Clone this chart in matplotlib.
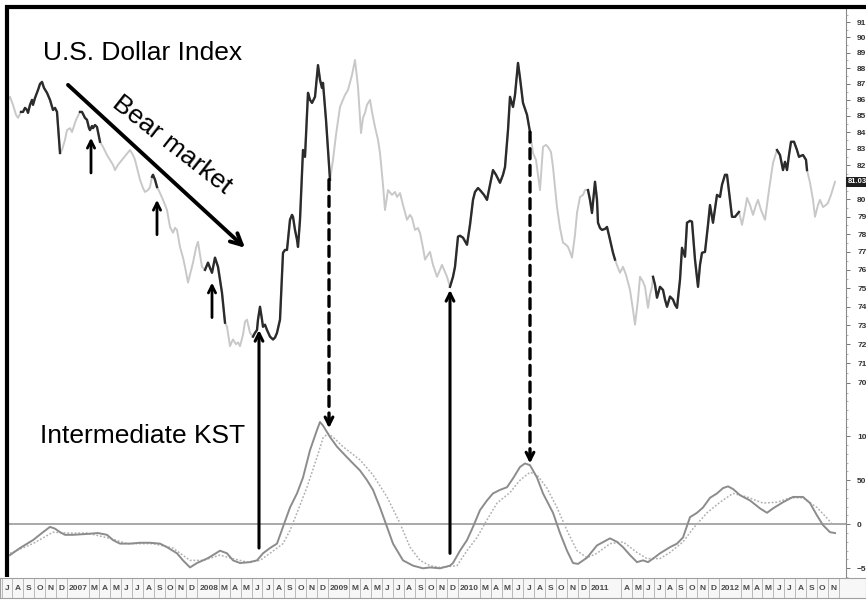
import numpy as np
import matplotlib
matplotlib.use("Agg")
import matplotlib.pyplot as plt
from matplotlib.patches import ConnectionPatch
from matplotlib.lines import Line2D
from matplotlib.ticker import FixedLocator, FixedFormatter, NullFormatter
from matplotlib.transforms import blended_transform_factory

plt.rcParams['font.family'] = ['Liberation Sans', 'DejaVu Sans']

# ── Data (x = weeks since Jul 2006) ─────────────────────
price_week = [
    0.0, 0.8, 2.0, 3.2, 4.0, 5.2,
    6.0, 6.8, 7.6, 8.0, 8.8, 9.6, 10.0, 10.8, 12.0, 12.8, 13.6, 14.4, 15.6, 16.8, 18.0, 18.8, 19.6, 20.8,
    21.6, 22.8, 23.6, 24.8, 25.6, 27.2, 28.8,
    29.6, 30.8, 31.6, 32.4, 32.8, 33.6, 34.0, 34.8, 35.6, 36.8,
    38.0, 39.6, 40.8, 42.0, 42.8, 44.0, 45.6, 47.2, 48.8, 50.0, 50.8, 52.0, 52.8, 54.0, 54.8, 56.0, 56.8, 57.6,
    58.0, 58.8, 59.6,
    60.8, 62.0, 63.6, 64.8, 66.0, 66.8, 67.6, 68.8, 70.0, 70.8, 72.0, 72.8, 74.0, 75.2, 76.0, 76.8, 77.6, 78.8,
    80.0, 80.8, 81.6, 82.8, 84.0, 84.8, 85.6, 86.8,
    87.6, 88.4, 88.8, 89.6, 90.0, 91.2, 92.0, 92.8, 94.0, 94.8, 95.6, 96.8, 98.0,
    98.8, 99.6, 100.0, 100.8, 101.6, 102.0, 102.8, 103.6, 104.8, 106.0, 106.8, 107.6, 108.8, 110.0, 110.8,
    111.6, 112.8, 113.6, 114.0, 114.8, 115.6, 116.0, 116.8, 118.0, 118.8, 120.0, 120.8, 121.6, 122.8, 124.0,
    124.8, 125.6, 126.0, 127.2, 128.8,
    130.0, 131.2, 132.8, 134.0, 134.8, 136.0, 137.6, 138.8, 140.0, 141.2,
    142.0, 142.8, 143.6, 144.8, 145.6, 146.8, 148.0, 148.8, 150.0, 150.8,
    152.0, 153.6, 154.8, 155.6, 156.8, 158.0, 159.6, 160.8, 161.6, 162.8,
    164.0, 164.8, 166.0, 166.8, 168.0, 168.8, 170.0, 171.6, 172.8, 173.6,
    174.8, 175.6, 176.8,
    178.0, 178.8, 180.0, 180.8, 182.0, 183.6, 184.8, 186.0, 186.8, 188.0, 188.8, 190.4, 191.6, 192.8,
    194.0, 195.2, 196.8, 198.0, 198.8, 200.0, 200.8, 202.0, 202.8, 204.0, 204.8, 206.0, 207.6, 208.8,
    210.0, 211.2, 212.8, 214.0, 215.2, 216.0, 217.2, 218.0, 219.6, 220.8, 222.0, 223.2, 224.0, 224.8,
    225.6, 226.8, 227.6, 228.8, 230.0, 230.8, 232.0,
    232.8, 233.6, 234.8, 235.6, 236.0, 236.8, 237.6, 238.8, 239.6, 240.8, 242.0, 242.8,
    244.0, 244.8, 246.0, 247.2, 248.8, 250.0, 250.8, 252.0, 252.8, 254.0, 254.8, 256.0, 256.8, 257.6, 258.0,
    258.8, 259.6, 260.8, 262.0, 262.8, 263.6, 264.8, 266.0, 266.8, 267.6, 268.8, 269.6, 270.8, 271.6, 272.8,
    273.6, 274.8, 276.0, 276.8, 277.6, 278.8, 280.0, 280.8, 282.0, 283.6, 284.8, 285.6, 286.8, 287.6, 288.8,
    289.6, 290.8, 292.4,
    293.6, 294.8, 295.6, 296.8, 298.0, 299.2, 300.0, 301.2, 302.8, 304.4, 306.0, 307.6,
    308.8, 310.0, 310.8, 311.6, 312.4, 313.2, 314.4, 315.6, 316.4, 317.2, 318.0, 319.2, 319.6,
    320.8, 322.0, 322.8, 324.0, 324.8, 326.0, 327.2, 328.0, 329.2, 330.8,
]
price_close = [
    86.00, 86.19, 85.69, 85.07, 84.88, 85.25,
    85.25, 85.50, 85.37, 85.19, 85.69, 86.00, 85.69, 86.12, 86.62, 87.00, 87.13, 86.75, 86.44, 86.00, 85.37, 85.50, 85.25, 82.74,
    82.92, 83.54, 84.13, 84.25, 84.01, 84.76, 85.25,
    85.25, 84.88, 84.76, 84.25, 84.13, 84.38, 84.25, 84.44, 84.32, 83.42,
    83.11, 82.62, 82.33, 82.03, 81.72, 82.03, 82.33, 82.62, 82.92, 82.62, 82.33, 81.61, 81.15, 80.66, 80.43, 80.54, 80.72, 81.32,
    81.44, 81.15, 80.72,
    80.37, 79.97, 79.38, 78.41, 78.08, 78.36, 78.24, 77.28, 76.68, 76.17, 75.30, 75.73, 76.40, 77.23, 77.57, 76.84, 76.17, 76.00,
    76.40, 76.11, 75.84, 76.68, 76.17, 75.46, 74.74, 73.14,
    72.92, 72.25, 71.90, 72.15, 72.25, 72.00, 72.10, 71.90, 72.50, 73.19, 73.30, 72.60, 72.40,
    72.60, 72.75, 73.30, 73.99, 73.30, 72.92, 73.03, 72.75, 72.40, 72.25, 72.35, 72.60, 73.30, 76.95, 77.11,
    77.11, 78.82, 79.10, 78.99, 78.24, 77.69, 77.28, 78.82, 82.92, 82.51, 86.44, 86.00, 85.81, 86.19, 88.20,
    87.26, 86.75, 87.07, 84.76, 81.15,
    82.33, 83.84, 85.56, 86.00, 86.31, 86.62, 87.57, 88.53, 86.81, 83.95,
    84.88, 85.19, 85.69, 86.00, 85.25, 84.32, 83.54, 82.74, 80.85, 79.38,
    80.54, 80.26, 80.43, 80.14, 80.37, 79.67, 78.82, 79.10, 78.93, 78.24,
    78.35, 78.07, 77.23, 76.57, 76.84, 77.00, 76.28, 75.62, 76.00, 76.28,
    75.89, 75.62, 75.07,
    75.62, 76.17, 77.86, 77.91, 77.80, 77.40, 78.53, 79.97, 80.43, 80.66, 80.54, 80.26, 79.97, 80.85,
    81.72, 81.44, 80.97, 81.44, 81.90, 84.13, 86.19, 85.56, 86.31, 88.34, 87.38, 85.81, 85.07, 84.01,
    82.74, 82.33, 80.54, 83.11, 83.23, 83.11, 82.80, 81.90, 79.55, 78.35, 77.52, 77.40, 77.28, 77.00,
    76.68, 77.97, 79.21, 80.14, 80.26, 80.54, 80.54,
    79.97, 79.21, 81.03, 79.97, 78.65, 78.35, 78.24, 78.30, 78.41, 77.69, 76.95, 76.57,
    76.11, 75.84, 76.17, 75.73, 74.90, 73.82, 73.03, 74.38, 75.62, 75.35, 75.07, 73.93, 74.64, 75.07, 75.62,
    75.18, 74.48, 75.07, 74.90, 74.38, 73.99, 74.54, 74.38, 74.10, 73.93, 75.46, 77.23, 76.73, 78.65, 78.76,
    78.71, 76.57, 75.07, 76.28, 76.95, 77.00, 78.53, 79.67, 78.65, 80.26, 80.14, 80.85, 81.44, 81.44, 79.97,
    78.99, 78.99, 79.27,
    78.53, 79.38, 80.08, 79.67, 79.10, 79.67, 79.97, 79.38, 78.82, 80.54, 82.15, 82.92,
    82.62, 81.72, 82.21, 81.72, 82.62, 83.42, 83.42, 82.92, 82.51, 82.57, 82.62, 82.33, 81.72,
    80.97, 79.97, 78.99, 79.67, 79.97, 79.55, 79.67, 79.79, 80.26, 81.03,
]
last_close = 81.03

# stretches where the KST is rising (price drawn dark)
kst_rising = [(5.2, 20.8), (28.8, 36.8), (57.6, 59.6), (78.8, 86.8), (98.0, 128.8),
              (176.8, 208.8), (232.0, 242.8), (258.0, 292.4), (307.6, 319.6)]

kst_week = [
    0.8, 4.8, 10.0, 14.0, 16.8, 18.8, 20.8, 22.8, 26.0, 31.6,
    36.0, 39.6, 42.0, 44.8, 48.8, 52.8, 56.8, 60.8, 63.6, 67.6,
    70.0, 72.8, 75.6, 79.6, 82.0, 84.8, 87.6, 90.0, 92.8, 96.8,
    99.6, 102.0, 104.8, 107.6, 110.0, 112.8, 115.6, 118.0, 120.8, 123.6,
    124.8, 126.0, 128.8, 131.6, 135.6, 138.0, 140.8, 143.6, 146.0, 148.8,
    151.6, 154.0, 158.0, 162.0, 166.0, 168.8, 172.8, 176.8, 178.0, 180.8,
    183.6, 186.0, 188.8, 191.6, 194.0, 196.8, 199.6, 202.0, 204.8, 206.8,
    208.8, 211.6, 214.0, 218.0, 220.8, 223.6, 226.0, 228.0, 231.6, 235.6,
    240.8, 243.6, 246.0, 248.8, 251.6, 254.0, 256.0, 258.0, 260.8, 264.8,
    267.6, 270.0, 272.8, 275.6, 278.0, 280.8, 283.6, 286.0, 288.0, 290.0,
    292.8, 296.8, 300.8, 303.6, 306.0, 310.0, 314.0, 318.0, 320.8, 323.6,
    326.0, 328.8, 330.8,
]
kst_value = [
    -35, -27, -18, -9, -3, -5, -9, -12, -12, -11,
    -10, -12, -18, -22, -22, -21, -21, -22, -26, -33,
    -41, -49, -44, -39, -35, -30, -33, -41, -44, -43,
    -41, -33, -27, -22, -3, 19, 35, 53, 84, 107,
    116, 112, 99, 88, 76, 69, 61, 50, 39, 19,
    -3, -22, -41, -47, -50, -49, -50, -47, -44, -30,
    -18, -3, 16, 27, 35, 39, 42, 52, 65, 69,
    67, 53, 35, 13, -10, -30, -44, -45, -38, -24,
    -16, -20, -26, -35, -43, -41, -43, -39, -33, -26,
    -22, -15, 8, 13, 19, 30, 35, 41, 43, 40,
    33, 27, 18, 13, 18, 25, 31, 31, 24, 10,
    -1, -9, -10,
]

signal_week = [
    0.8, 10.0, 18.0, 23.6, 31.6, 40.8, 47.6, 58.0, 66.0, 72.8,
    78.0, 84.8, 90.0, 95.6, 100.8, 104.8, 110.0, 112.8, 115.6, 119.6,
    123.6, 126.0, 128.0, 130.0, 134.0, 140.8, 146.0, 151.6, 156.8, 160.8,
    164.8, 168.8, 172.8, 179.6, 183.6, 187.6, 191.6, 195.6, 200.8, 204.8,
    208.8, 211.6, 215.6, 219.6, 223.6, 227.6, 231.6, 235.6, 240.8, 246.0,
    251.6, 255.6, 260.8, 264.8, 270.0, 274.0, 279.6, 284.8, 290.0, 295.6,
    302.0, 307.6, 312.8, 318.0, 323.6, 327.6, 330.0,
]
signal_value = [
    -33, -22, -9, -10, -10, -16, -22, -22, -27, -41,
    -41, -35, -39, -43, -41, -33, -22, -7, 13, 42,
    76, 98, 103, 99, 88, 73, 56, 31, 1, -26,
    -41, -47, -49, -47, -30, -15, 5, 24, 36, 50,
    59, 56, 41, 19, -7, -30, -38, -33, -22, -20,
    -32, -39, -39, -32, -20, -5, 13, 25, 35, 31,
    24, 25, 30, 30, 19, 7, -1,
]

# one entry per month, Jul 2006 .. Nov 2012 ('' = no label)
month_labels = [
    'J', 'A', 'S', 'O', 'N', 'D',
    '2007', '', 'M', 'A', 'M', 'J', 'J', 'A', 'S', 'O', 'N', 'D',
    '2008', '', 'M', 'A', 'M', 'J', 'J', 'A', 'S', 'O', 'N', 'D',
    '2009', '', 'M', 'A', 'M', 'J', 'J', 'A', 'S', 'O', 'N', 'D',
    '2010', '', 'M', 'A', 'M', 'J', 'J', 'A', 'S', 'O', 'N', 'D',
    '2011', '', '', 'A', 'M', 'J', 'J', 'A', 'S', 'O', 'N', 'D',
    '2012', '', 'M', 'A', 'M', 'J', 'J', 'A', 'S', 'O', 'N',
]
price_ticks = list(range(70, 92))
kst_ticks = [-50, 0, 50, 100]

# ── Figure layout ───────────────────────────────────────
W, H = 866, 602
fig = plt.figure(figsize=(W / 100, H / 100), dpi=100)
fig.patch.set_facecolor('white')

left, right = 8 / W, 846 / W
ax1 = fig.add_axes([left, (H - 400) / H, right - left, 392 / H])
ax2 = fig.add_axes([left, (H - 578) / H, right - left, 178 / H], sharex=ax1)
ax3 = fig.add_axes([0, (H - 598) / H, 1, 20 / H])

for ax in (ax1, ax2):
    ax.set_facecolor('none')
    for s in ('top', 'left', 'bottom'):
        ax.spines[s].set_visible(False)
    ax.spines['right'].set_color('#8a8a8a')
    ax.spines['right'].set_linewidth(0.8)
    ax.yaxis.tick_right()
    ax.tick_params(axis='x', bottom=False, labelbottom=False)
    ax.tick_params(axis='y', which='major', length=3, width=0.7, color='#777777',
                   labelsize=6, labelcolor='#333333', pad=5)
    ax.tick_params(axis='y', which='minor', length=1.6, width=0.5, color='#999999')

ax1.set_xlim(0, 335.2)

# ── Price panel ─────────────────────────────────────────
pw = np.array(price_week)
pc = np.array(price_close)
ax1.set_yscale('log')
ax1.set_ylim(69.14, 91.94)
ax1.plot(pw, pc, color='#c8c8c8', lw=1.4, zorder=2)
for a, b in kst_rising:
    m = (pw >= a) & (pw <= b)
    ax1.plot(pw[m], pc[m], color='#2b2b2b', lw=1.7, zorder=3)

# the 81 label sits under the last-price box
price_tick_text = ['' if t == 81 else str(t) for t in price_ticks]
ax1.yaxis.set_major_locator(FixedLocator(price_ticks))
ax1.yaxis.set_major_formatter(FixedFormatter(price_tick_text))
ax1.yaxis.set_minor_locator(FixedLocator(np.arange(69.5, 92, 0.5)))
ax1.yaxis.set_minor_formatter(NullFormatter())
for lab in ax1.get_yticklabels():
    lab.set_fontweight('bold')

tr = blended_transform_factory(ax1.transAxes, ax1.transData)
ax1.text(1.002, last_close, f"{last_close:.2f}", transform=tr, ha='left', va='center',
         fontsize=5.5, color='white', fontweight='bold', zorder=6,
         bbox=dict(boxstyle='square,pad=0.2', fc='#1e1e1e', ec='none'))

ax1.text(0.16, 0.885, 'U.S. Dollar Index', transform=ax1.transAxes,
         fontsize=19, ha='center', va='center')
ax1.text(0.196, 0.652, 'Bear market', transform=ax1.transAxes, fontsize=19,
         ha='center', va='center', rotation=-38, rotation_mode='anchor')

arrow_kw = dict(arrowstyle='->', color='black', shrinkA=0, shrinkB=0)
ax1.annotate('', xy=(94.8, 77.23), xytext=(24.0, 86.94),
             arrowprops=dict(lw=2.8, mutation_scale=20, **arrow_kw))
for w, tail, tip in [(33.2, 81.55, 83.66), (59.6, 77.97, 79.97), (81.6, 73.41, 75.30)]:
    ax1.annotate('', xy=(w, tip), xytext=(w, tail),
                 arrowprops=dict(lw=2.0, mutation_scale=13, **arrow_kw))

# ── KST panel ───────────────────────────────────────────
ax2.set_ylim(-61, 141)
ax2.axhline(0, color='#9a9a9a', lw=1.2, zorder=1)
ax2.plot(signal_week, signal_value, color='#b0b0b0', lw=1.1, ls=(0, (1.2, 1.2)), zorder=2)
ax2.plot(kst_week, kst_value, color='#8c8c8c', lw=1.4, zorder=3)
ax2.yaxis.set_major_locator(FixedLocator(kst_ticks))
ax2.yaxis.set_minor_locator(FixedLocator(np.arange(-60, 141, 10)))
ax2.yaxis.set_minor_formatter(NullFormatter())
for lab in ax2.get_yticklabels():
    lab.set_fontweight('bold')
ax2.text(0.16, 0.798, 'Intermediate KST', transform=ax2.transAxes,
         fontsize=19, ha='center', va='center')

# KST troughs -> price lows (solid up arrows)
for w, k_tail, p_tip in [(100.4, -27, 72.75), (176.8, -33, 74.90)]:
    con = ConnectionPatch(xyA=(w, k_tail), coordsA='data', axesA=ax2,
                          xyB=(w, p_tip), coordsB='data', axesB=ax1,
                          lw=2.2, mutation_scale=14, zorder=5, **arrow_kw)
    fig.add_artist(con)

# price highs -> KST peaks (dashed down arrows)
for w, p_tail, k_tip in [(128.4, 81.15, 109), (208.8, 84.01, 69)]:
    con = ConnectionPatch(xyA=(w, p_tail), coordsA='data', axesA=ax1,
                          xyB=(w, k_tip), coordsB='data', axesB=ax2,
                          arrowstyle='-', color='black', lw=2.4, ls=(0, (3, 2)), zorder=5)
    fig.add_artist(con)
    ax2.annotate('', xy=(w, k_tip), xytext=(w, k_tip + 12),
                 arrowprops=dict(lw=2.2, mutation_scale=14, **arrow_kw))

# ── Date strip ──────────────────────────────────────────
ax3.set_xlim(-3.2, 343.2)
ax3.set_ylim(0, 1)
ax3.set_xticks([])
ax3.set_yticks([])
ax3.set_facecolor('#f7f7f7')
for s in ax3.spines.values():
    s.set_color('#a0a0a0')
    s.set_linewidth(0.8)
month_w = 4.348
for i, lab in enumerate(month_labels):
    if not lab:
        continue
    x = i * month_w - 0.4
    ax3.axvline(x - month_w / 2, color='#b0b0b0', lw=0.6)
    xt = x + 0.55 * month_w if len(lab) == 4 else x
    ax3.text(xt, 0.45, lab, ha='center', va='center', fontsize=6,
             fontweight='bold', color='#4a4a4a')
ax3.axvline((len(month_labels) - 0.5) * month_w - 0.4, color='#b0b0b0', lw=0.6)

# ── Frame ───────────────────────────────────────────────
fig.add_artist(Line2D([7 / W, 7 / W], [1 - 5 / H, 1 - 577 / H], transform=fig.transFigure,
                      color='black', lw=3.0, solid_capstyle='butt'))
fig.add_artist(Line2D([5 / W, 1.0], [1 - 7 / H, 1 - 7 / H], transform=fig.transFigure,
                      color='black', lw=3.0, solid_capstyle='butt'))

fig.savefig('out.png', dpi=100)
